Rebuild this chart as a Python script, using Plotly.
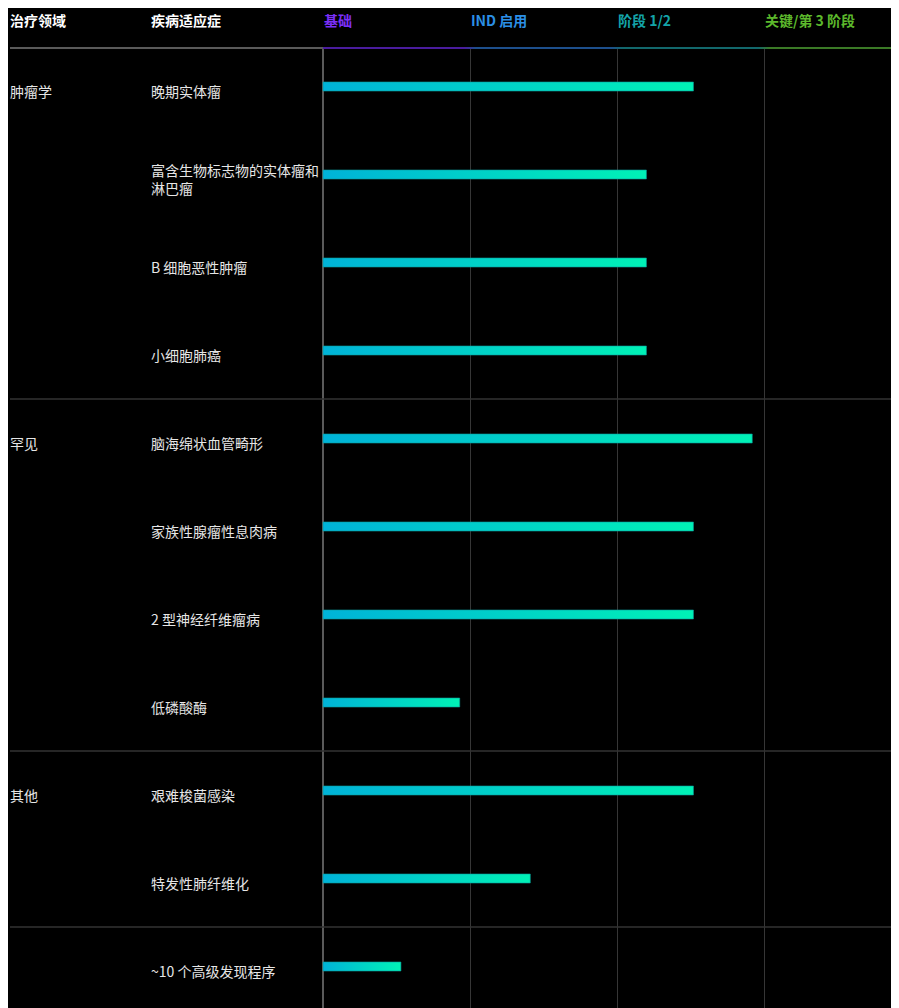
import plotly.graph_objects as go

# ---------------- data ----------------
column_headers = ["治疗领域", "疾病适应症"]
stages = ["基础", "IND 启用", "阶段 1/2", "关键/第 3 阶段"]
stage_colors = ["#7b2ff7", "#2b8fe6", "#14a3a8", "#5cb82c"]
stage_line_colors = ["#4a1c9e", "#1d4f8c", "#12686c", "#3b7a26"]

therapy_areas = ["肿瘤学", "", "", "", "罕见", "", "", "", "其他", "", ""]
indications = [
    "晚期实体瘤",
    "富含生物标志物的实体瘤和<br>淋巴瘤",
    "B 细胞恶性肿瘤",
    "小细胞肺癌",
    "脑海绵状血管畸形",
    "家族性腺瘤性息肉病",
    "2 型神经纤维瘤病",
    "低磷酸酶",
    "艰难梭菌感染",
    "特发性肺纤维化",
    "~10 个高级发现程序",
]
progress = [2.52, 2.20, 2.20, 2.20, 2.92, 2.52, 2.52, 0.93, 2.52, 1.41, 0.53]
group_breaks = [3.5, 7.5, 9.5]

# ---------------- geometry ----------------
W, H = 891, 1000
TOP = 39
PX_X = 147.0          # pixels per stage
PX_Y = 88.0           # pixels per row
AXIS_PX = 315         # pixel position of stage 0
x_min = -AXIS_PX / PX_X
x_max = (W - AXIS_PX) / PX_X
y_top = -0.5
y_bot = y_top + (H - TOP) / PX_Y
x_line = (2 - AXIS_PX) / PX_X
x_area = (0 - AXIS_PX) / PX_X
x_ind = (141 - AXIS_PX) / PX_X
bar_half = 4.5 / PX_Y
bar_shift = -4.5 / PX_Y
header_y = 1 + (TOP - 12) / (H - TOP)

fig = go.Figure()

# bars with horizontal gradient
for i, v in enumerate(progress):
    yc = i + bar_shift
    fig.add_trace(go.Scatter(
        x=[0, v, v, 0, 0],
        y=[yc - bar_half, yc - bar_half, yc + bar_half, yc + bar_half, yc - bar_half],
        mode="lines", line=dict(width=0.6, color="#0a9c9c"),
        fill="toself",
        fillgradient=dict(type="horizontal",
                          colorscale=[[0, "#00b3d8"], [1, "#00f2b6"]]),
        hoverinfo="skip", showlegend=False,
    ))

# header gradient line across stage columns
cs = []
for k, c in enumerate(stage_line_colors):
    a = (k + 0.04) / x_max if k > 0 else 0.0
    b = (k + 0.96) / x_max
    cs.append([min(a, 1.0), c])
    cs.append([min(b, 1.0), c])
cs[-1][0] = 1.0
fig.add_trace(go.Scatter(
    x=[0, x_max, x_max, 0, 0],
    y=[y_top, y_top, y_top + 2 / PX_Y, y_top + 2 / PX_Y, y_top],
    mode="lines", line=dict(width=0), fill="toself",
    fillgradient=dict(type="horizontal", colorscale=cs),
    hoverinfo="skip", showlegend=False,
))

shapes = []
# grey header line on left columns
shapes.append(dict(type="line", xref="x", yref="y", x0=x_line, x1=0,
                   y0=y_top + 1 / PX_Y, y1=y_top + 1 / PX_Y,
                   line=dict(color="#5a5a5a", width=2)))
for yb in group_breaks:
    shapes.append(dict(type="line", xref="x", yref="y", x0=x_line, x1=x_max,
                       y0=yb, y1=yb, line=dict(color="#333333", width=1.5)))

annotations = []
for txt, x in zip(column_headers, [x_area, x_ind]):
    annotations.append(dict(x=x, y=header_y, xref="x", yref="paper", text=f"<b>{txt}</b>",
                            showarrow=False, xanchor="left", yanchor="middle",
                            font=dict(size=14, color="#ffffff")))
for k, (txt, col) in enumerate(zip(stages, stage_colors)):
    annotations.append(dict(x=k - 1 / PX_X, y=header_y, xref="x", yref="paper",
                            text=f"<b>{txt}</b>",
                            showarrow=False, xanchor="left", yanchor="middle",
                            font=dict(size=14, color=col)))
for i, txt in enumerate(therapy_areas):
    if txt:
        annotations.append(dict(x=x_area, y=i, xref="x", yref="y", text=txt,
                                showarrow=False, xanchor="left", yanchor="middle",
                                font=dict(size=14, color="#e6e6e6")))
for i, txt in enumerate(indications):
    annotations.append(dict(x=x_ind, y=i, xref="x", yref="y", text=txt,
                            showarrow=False, xanchor="left", yanchor="middle",
                            align="left",
                            font=dict(size=14, color="#e6e6e6")))

fig.update_layout(
    width=W, height=H,
    margin=dict(l=0, r=0, t=TOP, b=0, pad=0),
    paper_bgcolor="#000000", plot_bgcolor="#000000",
    font=dict(family="Noto Sans CJK SC, Noto Sans, sans-serif", color="#e6e6e6"),
    showlegend=False,
    shapes=shapes, annotations=annotations,
    xaxis=dict(range=[x_min, x_max], tickvals=list(range(len(stages))),
               showticklabels=False, showgrid=True, gridcolor="#363636", gridwidth=1,
               zeroline=True, zerolinecolor="#5a5a5a", zerolinewidth=2,
               showline=False, fixedrange=True),
    yaxis=dict(range=[y_bot, y_top], showticklabels=False, showgrid=False,
               zeroline=False, showline=False, fixedrange=True),
)

fig.write_html("out.html", default_width=f"{W}px", default_height=f"{H}px")
